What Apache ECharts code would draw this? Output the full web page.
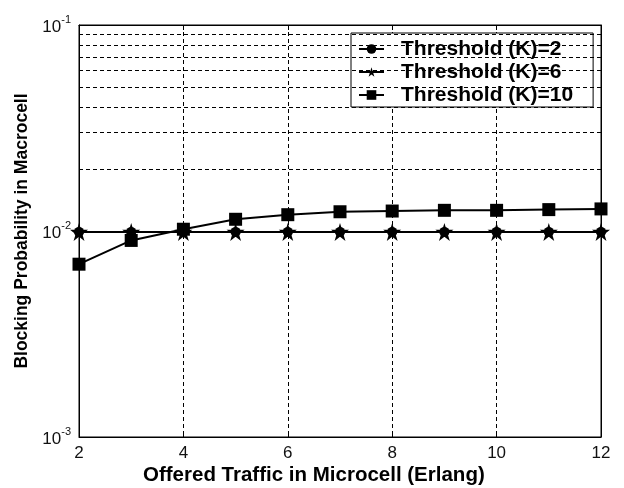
<!DOCTYPE html>
<html>
<head>
<meta charset="utf-8">
<script src="https://cdn.jsdelivr.net/npm/echarts@6/dist/echarts.min.js"></script>
<style>html,body{margin:0;padding:0;background:#fff}#c{width:624px;height:488px}</style>
</head>
<body>
<div id="c"></div>
<script>
var xValues = [2, 3, 4, 5, 6, 7, 8, 9, 10, 11, 12];
var seriesK2 = [0.0099, 0.0099, 0.0099, 0.0099, 0.0099, 0.0099, 0.0099, 0.0099, 0.0099, 0.0099, 0.0099];
var seriesK6 = [0.0099, 0.0099, 0.0099, 0.0099, 0.0099, 0.0099, 0.0099, 0.0099, 0.0099, 0.0099, 0.0099];
var seriesK10 = [0.0069, 0.0090, 0.0102, 0.0114, 0.0120, 0.0124, 0.0125, 0.0126, 0.0126, 0.0127, 0.0128];
var seriesNames = ['Threshold (K)=2', 'Threshold (K)=6', 'Threshold (K)=10'];
var minorGridValues = [0.002, 0.003, 0.004, 0.005, 0.006, 0.007, 0.008, 0.009,
                       0.02, 0.03, 0.04, 0.05, 0.06, 0.07, 0.08, 0.09];
var xTitle = 'Offered Traffic in Microcell (Erlang)';
var yTitle = 'Blocking Probability in Macrocell';

var FONT = '"Liberation Sans", Arial, sans-serif';
var starPath = 'path://M50,0 L61,35 L98,35 L68,57 L79,91 L50,70 L21,91 L32,57 L2,35 L39,35 Z';
function pairs(ys) { return xValues.map(function (x, i) { return [x, ys[i]]; }); }
var dash = { color: '#000', width: 1, type: [4, 3] };

var chart = echarts.init(document.getElementById('c'), null, { renderer: 'canvas' });
chart.setOption({
  animation: false,
  backgroundColor: '#fff',
  textStyle: { fontFamily: FONT },
  grid: { left: 79, right: 23, top: 25, bottom: 51, show: true, borderColor: '#000', borderWidth: 1, backgroundColor: 'transparent' },
  legend: {
    orient: 'vertical', left: 351, top: 33,
    data: seriesNames,
    backgroundColor: '#fff', borderColor: '#000', borderWidth: 1, borderRadius: 0,
    padding: [5, 20, 1, 7], itemWidth: 25, itemHeight: 12, itemGap: 1,
    textStyle: { fontFamily: FONT, fontWeight: 'bold', fontSize: 21, lineHeight: 22, color: '#000', padding: [0, 0, 0, 12] }
  },
  graphic: [{
    type: 'text', silent: true,
    left: 143, top: 465,
    style: { text: xTitle, fontFamily: FONT, fontWeight: 'bold', fontSize: 20.5, fill: '#000' }
  }],
  xAxis: [{
    type: 'value', min: 2, max: 12, interval: 2,
    axisLine: { lineStyle: { color: '#000', width: 1 } },
    axisTick: { inside: true, length: 5, lineStyle: { color: '#000' } },
    axisLabel: { fontFamily: FONT, fontSize: 17, color: '#111', margin: 8 },
    splitLine: { show: true, lineStyle: dash }
  }, {
    type: 'value', min: 2, max: 12, interval: 2, position: 'top',
    axisLine: { show: true, lineStyle: { color: '#000' } },
    axisTick: { inside: true, length: 5, lineStyle: { color: '#000' } },
    axisLabel: { show: false }, splitLine: { show: false }
  }],
  yAxis: [{
    type: 'log', logBase: 10, min: 0.001, max: 0.1,
    name: yTitle, nameLocation: 'middle', nameGap: 42,
    nameTextStyle: { fontFamily: FONT, fontWeight: 'bold', fontSize: 17.5, color: '#000' },
    axisLine: { show: true, lineStyle: { color: '#000', width: 1 } },
    axisTick: { inside: true, length: 5, lineStyle: { color: '#000' } },
    axisLabel: {
      margin: 8, color: '#111',
      formatter: function (v) {
        var e = Math.round(Math.log(v) / Math.LN10);
        return '{b|10}{s|' + e + '}';
      },
      rich: {
        b: { fontFamily: FONT, fontSize: 17, color: '#111', verticalAlign: 'bottom' },
        s: { fontFamily: FONT, fontSize: 11, color: '#111', verticalAlign: 'bottom', padding: [0, 0, 10, 0] }
      }
    },
    splitLine: { show: true, lineStyle: dash }
  }, {
    type: 'log', logBase: 10, min: 0.001, max: 0.1, position: 'right',
    axisLine: { show: true, lineStyle: { color: '#000' } },
    axisTick: { inside: true, length: 5, lineStyle: { color: '#000' } },
    axisLabel: { show: false }, splitLine: { show: false }
  }],
  series: [{
    name: 'grid-minor', type: 'line', data: [], silent: true, z: 1,
    markLine: {
      silent: true, symbol: 'none', animation: false,
      label: { show: false },
      lineStyle: dash,
      data: minorGridValues.map(function (v) { return { yAxis: v }; })
    }
  }, {
    name: seriesNames[0], type: 'line', data: pairs(seriesK2), z: 3,
    symbol: 'circle', symbolSize: 10,
    lineStyle: { color: '#000', width: 2 }, itemStyle: { color: '#000' }
  }, {
    name: seriesNames[1], type: 'line', data: pairs(seriesK6), z: 4,
    symbol: starPath, symbolSize: 18,
    lineStyle: { color: '#000', width: 2 }, itemStyle: { color: '#000' }
  }, {
    name: seriesNames[2], type: 'line', data: pairs(seriesK10), z: 5,
    symbol: 'rect', symbolSize: 13,
    lineStyle: { color: '#000', width: 2 }, itemStyle: { color: '#000' }
  }]
});
</script>
</body>
</html>
